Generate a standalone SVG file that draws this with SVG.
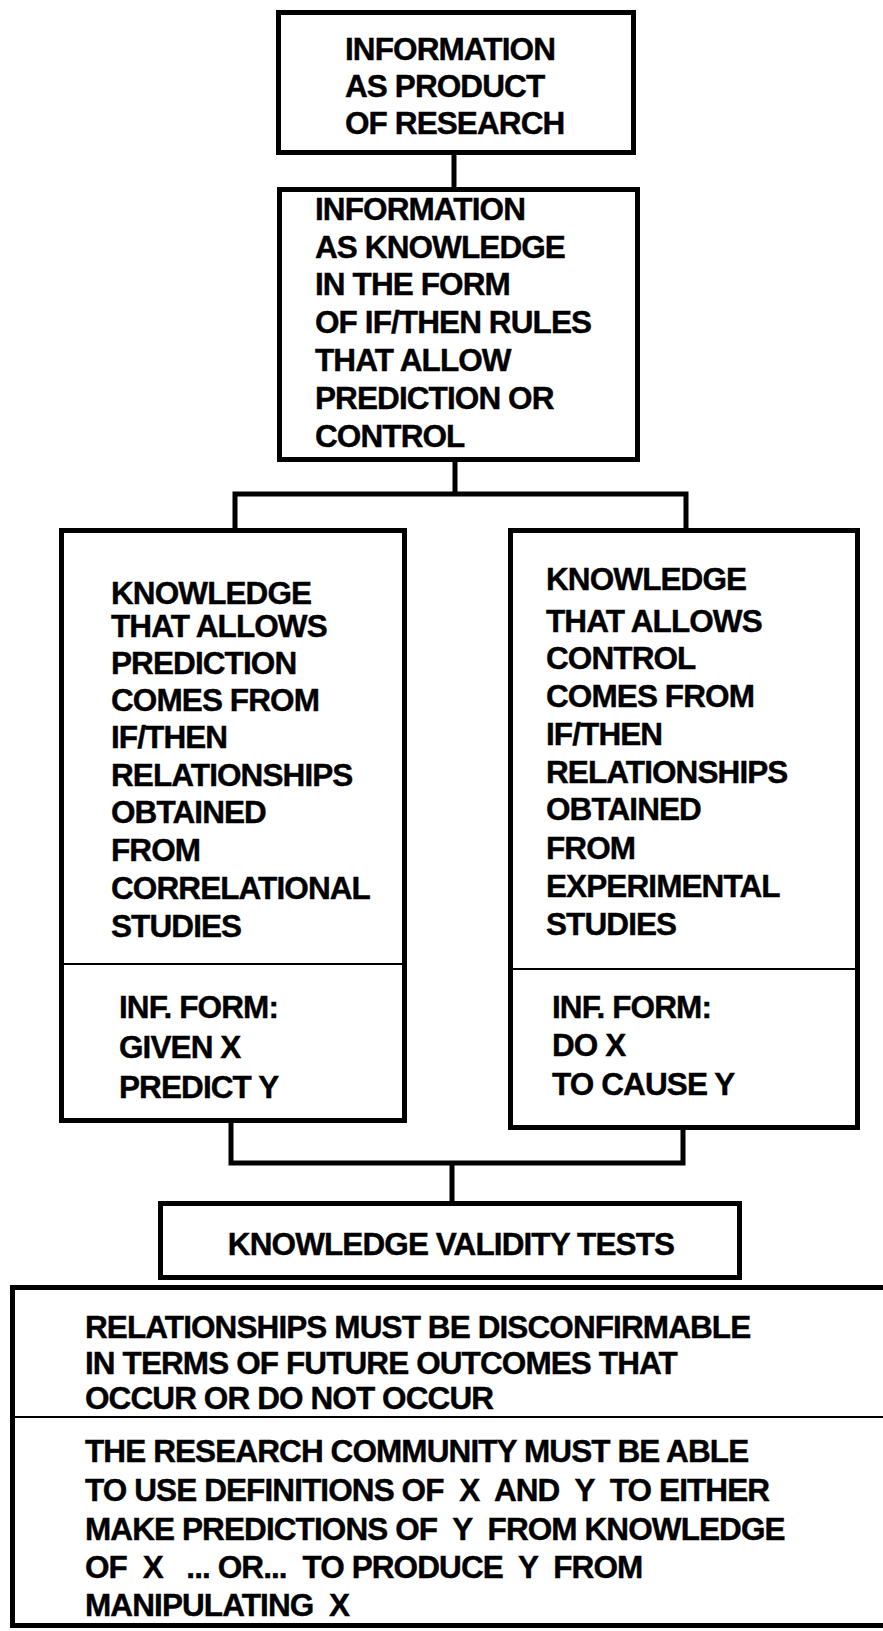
<svg xmlns="http://www.w3.org/2000/svg" width="883" height="1631" viewBox="0 0 883 1631">
<style>
.box{fill:#fff;stroke:#000;stroke-width:5}
.div{stroke:#000;stroke-width:2}
.con{fill:none;stroke:#000;stroke-width:5}
text{font-family:"Liberation Sans",Arial,sans-serif;font-weight:bold;font-size:31.5px;letter-spacing:-0.9px;fill:#000;stroke:#000;stroke-width:0.4;white-space:pre}
</style>
<rect width="883" height="1631" fill="#fff"/>
<g id="connectors">
<path class="con" d="M454 154V189"/>
<path class="con" d="M455 461V494M235 528V494H686V528"/>
<path class="con" d="M231 1123V1163H683V1130M452 1163V1202"/>
</g>
<g id="n1">
<rect class="box" x="278.5" y="12.5" width="355" height="140"/>
<text x="345" y="60">INFORMATION</text>
<text x="345" y="97">AS PRODUCT</text>
<text x="345" y="134">OF RESEARCH</text>
</g>
<g id="n2">
<rect class="box" x="279.5" y="189.5" width="358" height="270"/>
<text x="315" y="220">INFORMATION</text>
<text x="315" y="258">AS KNOWLEDGE</text>
<text x="315" y="295">IN THE FORM</text>
<text x="315" y="333">OF IF/THEN RULES</text>
<text x="315" y="371">THAT ALLOW</text>
<text x="315" y="409">PREDICTION OR</text>
<text x="315" y="447">CONTROL</text>
</g>
<g id="n3">
<rect class="box" x="61.5" y="530.5" width="343" height="590"/>
<line class="div" x1="61" y1="964" x2="405" y2="964"/>
<text x="111" y="604">KNOWLEDGE</text>
<text x="111" y="637">THAT ALLOWS</text>
<text x="111" y="674">PREDICTION</text>
<text x="111" y="711">COMES FROM</text>
<text x="111" y="748">IF/THEN</text>
<text x="111" y="786">RELATIONSHIPS</text>
<text x="111" y="823">OBTAINED</text>
<text x="111" y="861">FROM</text>
<text x="111" y="899">CORRELATIONAL</text>
<text x="111" y="937">STUDIES</text>
<text x="119" y="1018">INF. FORM:</text>
<text x="119" y="1058">GIVEN X</text>
<text x="119" y="1098">PREDICT Y</text>
</g>
<g id="n4">
<rect class="box" x="510.5" y="530.5" width="347" height="597"/>
<line class="div" x1="510" y1="969" x2="857" y2="969"/>
<text x="546" y="590">KNOWLEDGE</text>
<text x="546" y="632">THAT ALLOWS</text>
<text x="546" y="669">CONTROL</text>
<text x="546" y="707">COMES FROM</text>
<text x="546" y="745">IF/THEN</text>
<text x="546" y="783">RELATIONSHIPS</text>
<text x="546" y="820">OBTAINED</text>
<text x="546" y="859">FROM</text>
<text x="546" y="897">EXPERIMENTAL</text>
<text x="546" y="935">STUDIES</text>
<text x="552" y="1018">INF. FORM:</text>
<text x="552" y="1056">DO X</text>
<text x="552" y="1095">TO CAUSE Y</text>
</g>
<g id="n5">
<rect class="box" x="160.5" y="1203.5" width="579" height="74"/>
<text x="451" y="1255" text-anchor="middle">KNOWLEDGE VALIDITY TESTS</text>
</g>
<g id="n6">
<rect class="box" x="12.5" y="1287.5" width="880" height="338"/>
<line class="div" x1="12" y1="1417" x2="883" y2="1417"/>
<text x="85" y="1338">RELATIONSHIPS MUST BE DISCONFIRMABLE</text>
<text x="85" y="1374">IN TERMS OF FUTURE OUTCOMES THAT</text>
<text x="85" y="1409">OCCUR OR DO NOT OCCUR</text>
<text x="85" y="1462">THE RESEARCH COMMUNITY MUST BE ABLE</text>
<text x="85" y="1501">TO USE DEFINITIONS OF  X  AND  Y  TO EITHER</text>
<text x="85" y="1540">MAKE PREDICTIONS OF  Y  FROM KNOWLEDGE</text>
<text x="85" y="1578">OF  X   ... OR...  TO PRODUCE  Y  FROM</text>
<text x="85" y="1616">MANIPULATING  X</text>
</g>
</svg>
